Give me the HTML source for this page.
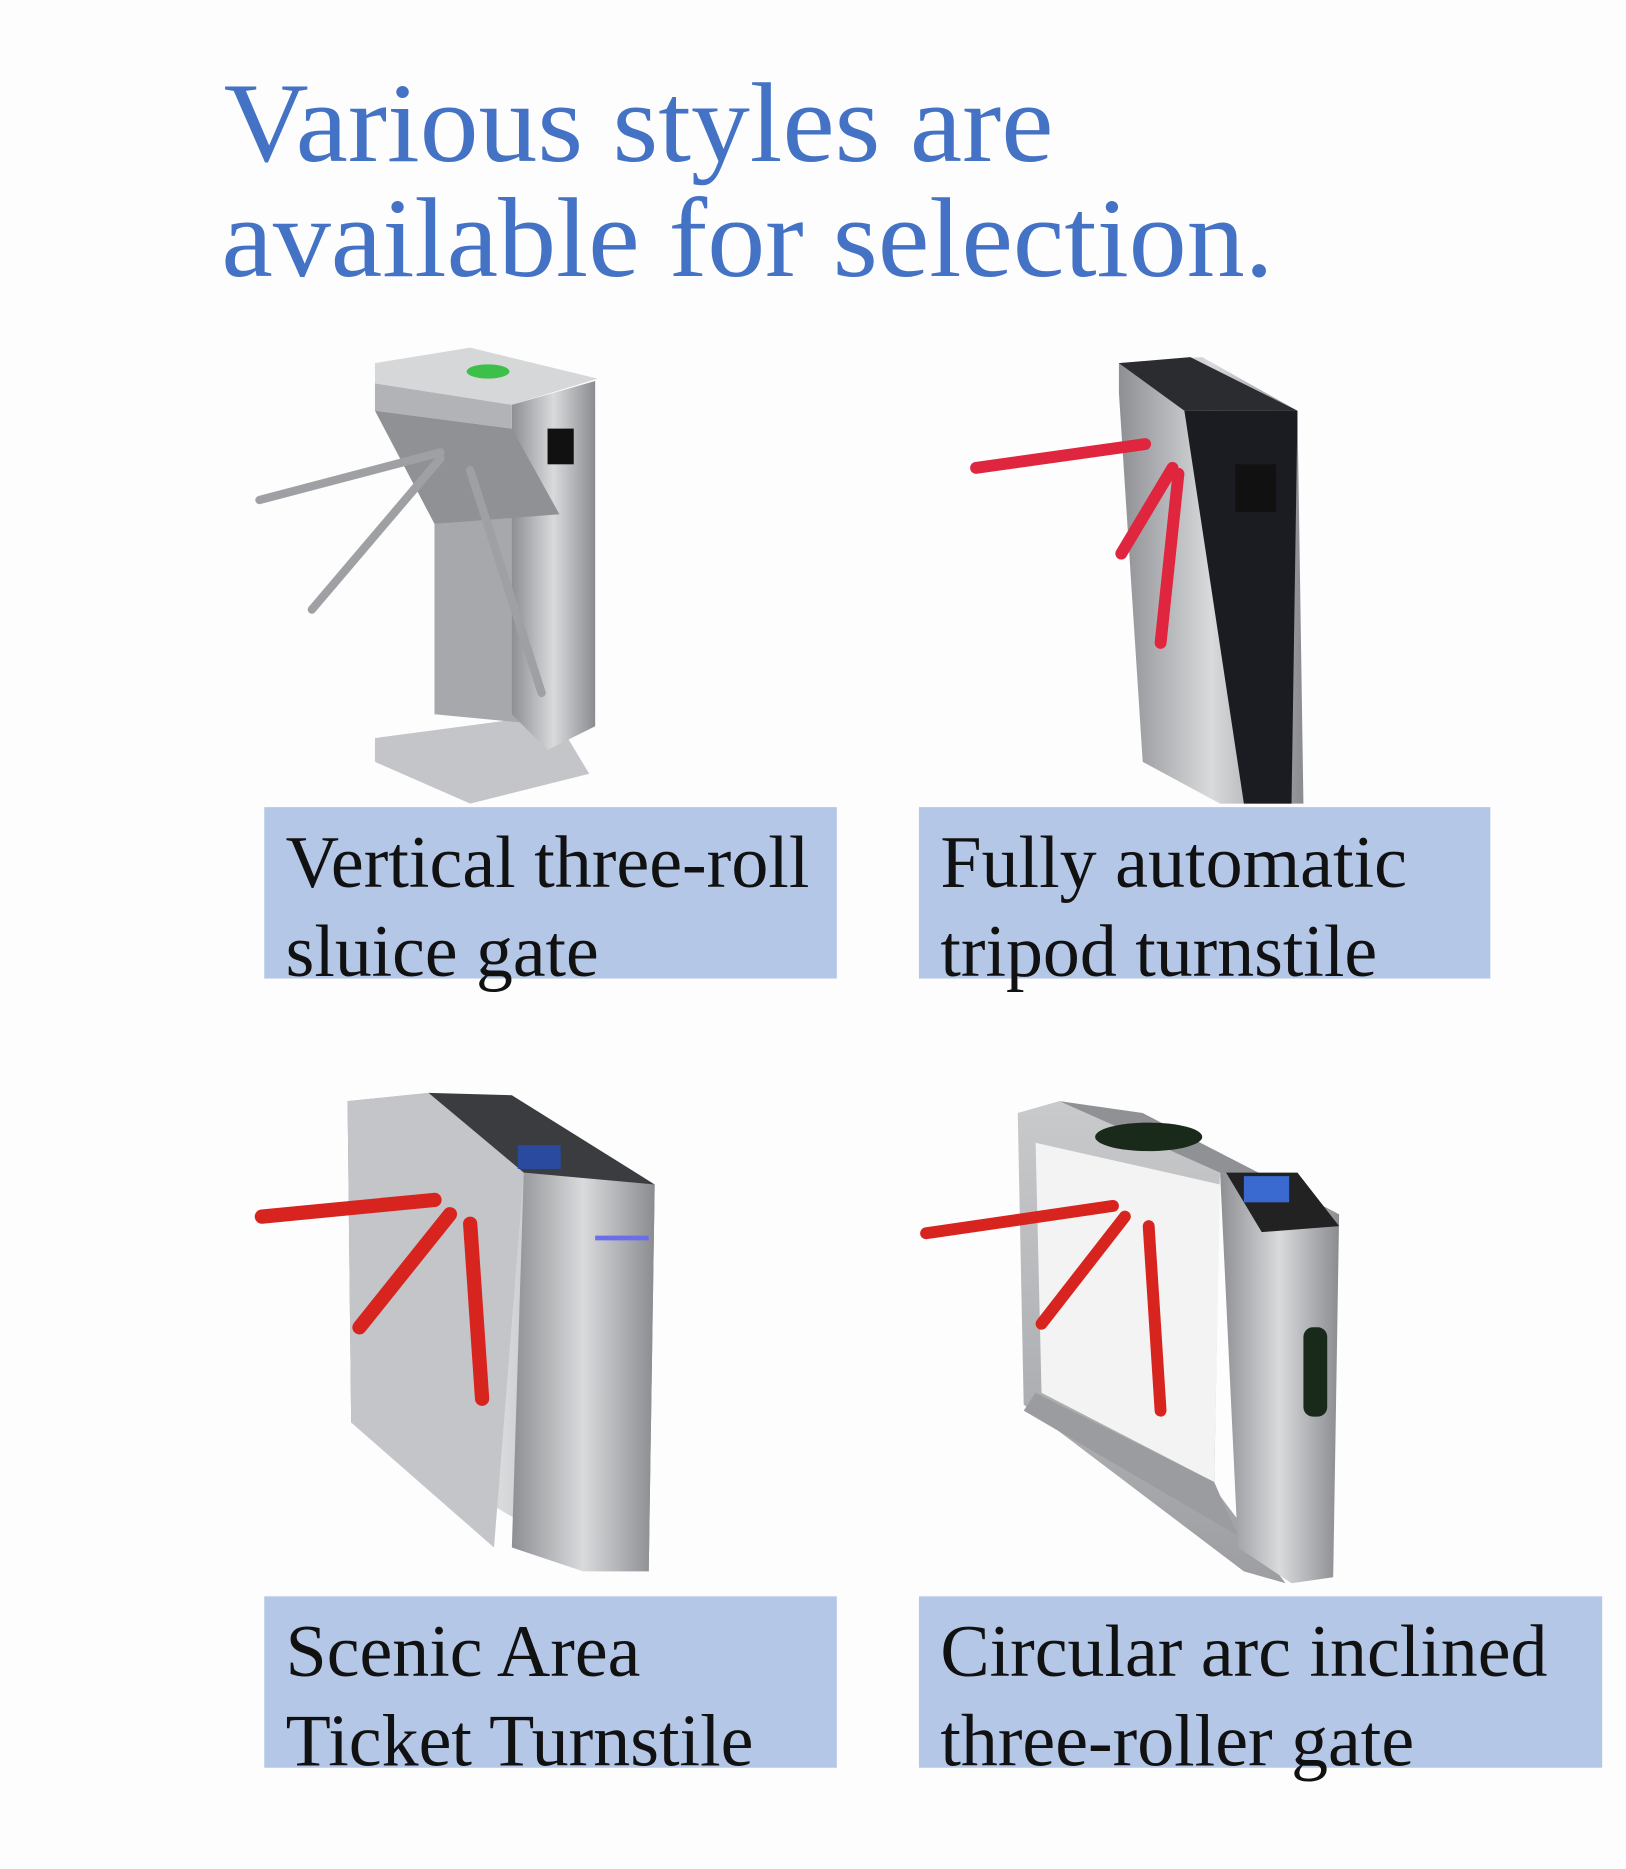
<!DOCTYPE html>
<html><head><meta charset="utf-8"><style>html,body{margin:0;padding:0;background:#fdfdfd}svg{display:block}</style></head>
<body>
<svg width="1626" height="1869" viewBox="0 0 1366 1570" xmlns="http://www.w3.org/2000/svg">
<defs>
<linearGradient id="st" x1="0" x2="1"><stop offset="0" stop-color="#8d8f93"/><stop offset="0.5" stop-color="#d9dadc"/><stop offset="1" stop-color="#8a8c90"/></linearGradient>
<linearGradient id="st2" x1="0" x2="0" y1="0" y2="1"><stop offset="0" stop-color="#c9cacc"/><stop offset="1" stop-color="#9c9ea2"/></linearGradient>
</defs>
<rect width="1366" height="1570" fill="#fdfdfd"/>
<g font-family="Liberation Serif, serif" fill="#4472c4" font-size="95">
<text x="188" y="135" textLength="697" lengthAdjust="spacingAndGlyphs">Various styles are</text>
<text x="186" y="232" textLength="884" lengthAdjust="spacingAndGlyphs">available for selection.</text>
</g>
<!-- label boxes -->
<g fill="#b4c7e7">
<rect x="222" y="678" width="481" height="144"/>
<rect x="772" y="678" width="480" height="144"/>
<rect x="222" y="1341" width="481" height="144"/>
<rect x="772" y="1341" width="574" height="144"/>
</g>
<g font-family="Liberation Serif, serif" fill="#111" font-size="62">
<text x="240" y="745" textLength="440" lengthAdjust="spacingAndGlyphs">Vertical three-roll</text>
<text x="240" y="820" textLength="263" lengthAdjust="spacingAndGlyphs">sluice gate</text>
<text x="790" y="745" textLength="392" lengthAdjust="spacingAndGlyphs">Fully automatic</text>
<text x="790" y="820" textLength="367" lengthAdjust="spacingAndGlyphs">tripod turnstile</text>
<text x="240" y="1408" textLength="298" lengthAdjust="spacingAndGlyphs">Scenic Area</text>
<text x="240" y="1483" textLength="393" lengthAdjust="spacingAndGlyphs">Ticket Turnstile</text>
<text x="790" y="1408" textLength="510" lengthAdjust="spacingAndGlyphs">Circular arc inclined</text>
<text x="790" y="1483" textLength="398" lengthAdjust="spacingAndGlyphs">three-roller gate</text>
</g>
<!-- Gate 1 -->
<g>
<polygon points="315,620 465,600 495,650 395,675 315,640" fill="#c4c5c8"/>
<polygon points="365,440 465,430 470,610 365,600" fill="#a6a8ab"/>
<polygon points="430,340 500,320 500,610 460,630 430,600" fill="url(#st)"/>
<polygon points="315,305 395,292 502,318 430,340 315,322" fill="#d6d7d9"/>
<polygon points="315,322 430,340 430,360 315,345" fill="#b2b3b6"/>
<polygon points="315,345 430,360 470,432 365,440" fill="#8f9195"/>
<ellipse cx="410" cy="312" rx="18" ry="6" fill="#3cc04a"/>
<rect x="460" y="360" width="22" height="30" fill="#111"/>
<g stroke="#9ea0a4" stroke-width="7" stroke-linecap="round">
<line x1="370" y1="380" x2="218" y2="420"/>
<line x1="370" y1="385" x2="262" y2="512"/>
<line x1="395" y1="395" x2="455" y2="582"/>
</g>
</g>
<!-- Gate 2 -->
<g>
<polygon points="940,305 1010,300 1090,345 1095,675 1025,675 960,640 940,330" fill="url(#st)"/>
<polygon points="995,345 1090,345 1085,675 1045,675" fill="#1a1c22"/>
<polygon points="940,305 1000,300 1090,345 995,345" fill="#2a2c30"/>
<rect x="1038" y="390" width="34" height="40" fill="#111"/>
<g stroke="#e0253f" stroke-width="10" stroke-linecap="round">
<line x1="962" y1="373" x2="820" y2="393"/>
<line x1="985" y1="393" x2="942" y2="465"/>
<line x1="990" y1="398" x2="975" y2="540"/>
</g>
</g>
<!-- Gate 3 -->
<g>
<polygon points="292,925 360,918 550,995 545,1320 500,1315 295,1195" fill="url(#st)"/>
<polygon points="292,925 360,918 440,985 415,1300 295,1195" fill="#c3c5c8"/>
<polygon points="440,985 550,995 545,1320 490,1320 430,1300" fill="url(#st)"/>
<polygon points="360,918 430,920 550,995 440,985" fill="#3a3c40"/>
<rect x="435" y="962" width="36" height="20" fill="#2a4aa0"/>
<line x1="500" y1="1040" x2="545" y2="1040" stroke="#6a6ee8" stroke-width="4"/>
<g stroke="#d8241e" stroke-width="12" stroke-linecap="round">
<line x1="365" y1="1008" x2="220" y2="1022"/>
<line x1="378" y1="1020" x2="302" y2="1115"/>
<line x1="395" y1="1028" x2="405" y2="1175"/>
</g>
</g>
<!-- Gate 4 -->
<g>
<polygon points="855,935 890,925 1025,975 1020,1250 1080,1330 1045,1320 860,1180" fill="url(#st2)"/>
<polygon points="870,960 1025,995 1020,1245 875,1170" fill="#f3f3f3"/>
<polygon points="870,1170 1020,1245 1040,1290 860,1185" fill="#9a9ca0"/>
<polygon points="1025,985 1125,1020 1120,1325 1085,1330 1040,1300" fill="url(#st)"/>
<polygon points="890,925 960,935 1125,1020 1025,985" fill="#8f9195"/>
<ellipse cx="965" cy="955" rx="45" ry="12" fill="#1a2a1a"/>
<polygon points="1030,985 1090,985 1125,1030 1060,1035" fill="#222"/>
<rect x="1045" y="988" width="38" height="22" fill="#3a6ad0"/>
<rect x="1095" y="1115" width="20" height="75" rx="8" fill="#1a2a1a"/>
<g stroke="#d8241e" stroke-width="10" stroke-linecap="round">
<line x1="935" y1="1013" x2="778" y2="1036"/>
<line x1="945" y1="1022" x2="875" y2="1112"/>
<line x1="965" y1="1030" x2="975" y2="1185"/>
</g>
</g>
</svg>
</body></html>
